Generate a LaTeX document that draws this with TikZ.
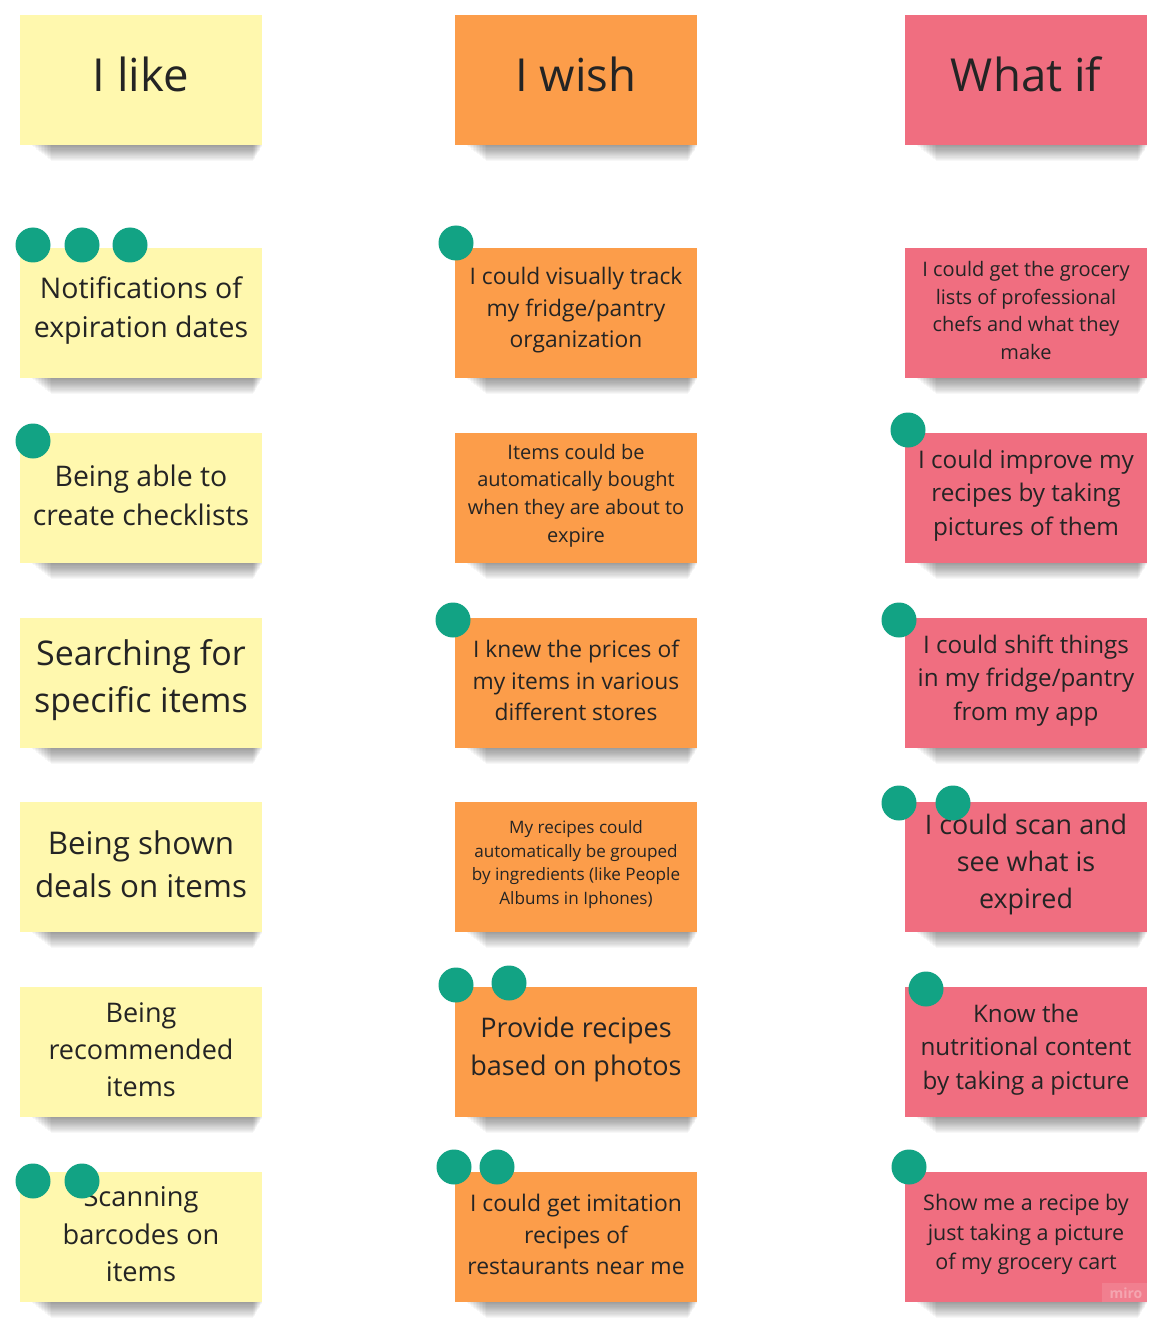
\documentclass[tikz,border=0pt]{standalone}
\usepackage{fontspec}
\setmainfont{Open Sans}
\definecolor{ny}{HTML}{FFF8AE}
\definecolor{no}{HTML}{FC9D4A}
\definecolor{nr}{HTML}{F06E80}
\definecolor{dotc}{HTML}{12A384}
\definecolor{txt}{HTML}{242424}
\tikzset{
  notebox/.style={rectangle, minimum width=242pt, minimum height=130pt, inner sep=0pt},
  notetext/.style={inner sep=0pt, align=center, text=txt},
  vdot/.style={circle, fill=dotc, minimum size=35pt, inner sep=0pt},
  shade layer/.style={fill=black, opacity=0.032, draw=none}
}
\newcommand\snote[7][62.5]{%
  \foreach \k in {1,...,14}{
    \fill[shade layer] ({#3+10+1.5*\k},{#4+124}) rectangle ({#3+243-0.7*\k},{#4+130+1.15*\k});
  }
  \node[notebox, fill=#5] (#2) at ({#3+121},{#4+65}) {};
  \node[notetext, font=\fontsize{#6pt}{\dimexpr #6pt*138/100\relax}\selectfont] (#2t) at ({#3+121},{#4+#1}) {#7};
}
\begin{document}
\begin{tikzpicture}[x=1pt,y=-1pt]
\useasboundingbox[fill=white] (0,0) rectangle (1175,1329);
% headers
\snote[59]{h1}{20}{15}{ny}{45.5}{I like}
\snote[59]{h2}{455}{15}{no}{45.5}{I wish}
\snote[59]{h3}{905}{15}{nr}{45.5}{What if}
% column 1
\snote{a1}{20}{248}{ny}{28.5}{Notifications of\\expiration dates}
\snote{a2}{20}{433}{ny}{28.4}{Being able to\\create checklists}
\snote{a3}{20}{618}{ny}{34}{Searching for\\specific items}
\snote{a4}{20}{802}{ny}{31.3}{Being shown\\deals on items}
\snote{a5}{20}{987}{ny}{27}{Being\\recommended\\items}
\snote{a6}{20}{1172}{ny}{27.2}{Scanning\\barcodes on\\items}
% column 2
\snote{b1}{455}{248}{no}{22.8}{I could visually track\\my fridge/pantry\\organization}
\snote{b2}{455}{433}{no}{20}{Items could be\\automatically bought\\when they are about to\\expire}
\snote{b3}{455}{618}{no}{22.8}{I knew the prices of\\my items in various\\different stores}
\snote{b4}{455}{802}{no}{17.1}{My recipes could\\automatically be grouped\\by ingredients (like People\\Albums in Iphones)}
\snote{b5}{455}{987}{no}{27}{Provide recipes\\based on photos}
\snote{b6}{455}{1172}{no}{22.9}{I could get imitation\\recipes of\\restaurants near me}
% column 3
\snote{c1}{905}{248}{nr}{20}{I could get the grocery\\lists of professional\\chefs and what they\\make}
\snote{c2}{905}{433}{nr}{24.3}{I could improve my\\recipes by taking\\pictures of them}
\snote{c3}{905}{618}{nr}{24.2}{I could shift things\\in my fridge/pantry\\from my app}
\snote{c4}{905}{802}{nr}{26.9}{I could scan and\\see what is\\expired}
\snote{c5}{905}{987}{nr}{24.2}{Know the\\nutritional content\\by taking a picture}
\snote{c6}{905}{1172}{nr}{21.5}{Show me a recipe by\\just taking a picture\\of my grocery cart}
% miro mark
\fill[white, opacity=0.12] (1102,1283) rectangle (1147,1302);
\node[text=white, opacity=0.3, font=\fontsize{14pt}{16pt}\selectfont\bfseries] (miro) at (1126,1293) {miro};
% vote dots
\node[vdot] (d1) at (33,245) {};
\node[vdot] (d2) at (82,245) {};
\node[vdot] (d3) at (130,245) {};
\node[vdot] (d4) at (33,441) {};
\node[vdot] (d5) at (33,1181) {};
\node[vdot] (d6) at (82,1181) {};
\node[vdot] (d7) at (456,243) {};
\node[vdot] (d8) at (453,620) {};
\node[vdot] (d9) at (456,985) {};
\node[vdot] (d10) at (509,983) {};
\node[vdot] (d11) at (454,1167) {};
\node[vdot] (d12) at (497,1167) {};
\node[vdot] (d13) at (908,430) {};
\node[vdot] (d14) at (899,620) {};
\node[vdot] (d15) at (899,803) {};
\node[vdot] (d16) at (953,803) {};
\node[vdot] (d17) at (926,989) {};
\node[vdot] (d18) at (909,1167) {};
\end{tikzpicture}
\end{document}
